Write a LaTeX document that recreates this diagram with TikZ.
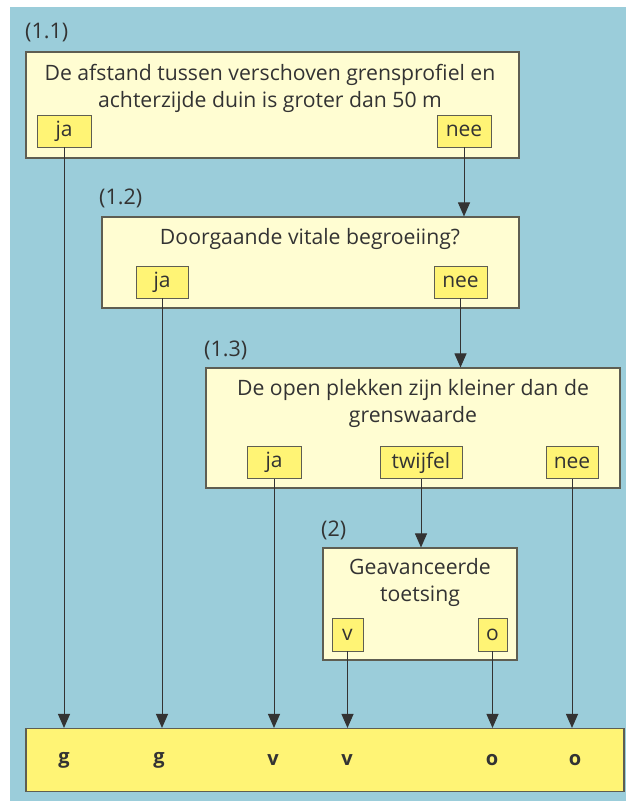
\documentclass[tikz,border=0pt]{standalone}
\usepackage{fontspec}
\setmainfont{Open Sans}
\usetikzlibrary{arrows.meta}
\definecolor{bgblue}{HTML}{9BCDDA}
\definecolor{paleyel}{HTML}{FFFDD2}
\definecolor{btnyel}{HTML}{FFF475}
\definecolor{edge}{HTML}{5E5E52}
\definecolor{ink}{HTML}{333333}
\begin{document}
\begin{tikzpicture}[x=1pt,y=-1pt,
  qbox/.style={draw=edge,line width=1.1pt,fill=paleyel,inner sep=0pt},
  btn/.style={draw=edge,line width=0.9pt,fill=btnyel,inner sep=0pt,minimum height=32pt,text=ink,font=\fontsize{21}{22}\selectfont},
  qtext/.style={text=ink,font=\fontsize{21.2}{27}\selectfont,align=center,inner sep=0pt},
  lab/.style={text=ink,font=\fontsize{21.5}{22}\selectfont,anchor=west,inner sep=0pt},
  res/.style={text=ink,font=\bfseries\fontsize{20}{22}\selectfont,inner sep=0pt},
  arr/.style={-{Triangle[length=14pt,width=12pt]},draw=ink,line width=1pt}]
\useasboundingbox (0,0) rectangle (626,805);
\fill[white] (0,0) rectangle (626,805);
\fill[bgblue] (10,7) rectangle (626,801);

% box 1.1
\node[lab] (l11) at (25,33) {(1.1)};
\node[qbox,minimum width=493pt,minimum height=106pt] (b11) at (272.5,105) {};
\node[qtext] (t11) at (270,88) {De afstand tussen verschoven grensprofiel en\\achterzijde duin is groter dan 50 m};
\node[btn,minimum width=54pt] (ja1) at (64,131) {ja};
\node[btn,minimum width=54pt] (nee1) at (464,131) {nee};

% box 1.2
\node[lab] (l12) at (99,198) {(1.2)};
\node[qbox,minimum width=417pt,minimum height=91pt] (b12) at (310.5,262.5) {};
\node[qtext] (t12) at (310,239) {Doorgaande vitale begroeiing?};
\node[btn,minimum width=52pt] (ja2) at (162,282) {ja};
\node[btn,minimum width=53pt] (nee2) at (460.5,282) {nee};

% box 1.3
\node[lab] (l13) at (204,350) {(1.3)};
\node[qbox,minimum width=414pt,minimum height=120pt] (b13) at (413,428) {};
\node[qtext] (t13) at (413,403) {De open plekken zijn kleiner dan de\\grenswaarde};
\node[btn,minimum width=54pt] (ja3) at (274,462.5) {ja};
\node[btn,minimum width=82pt] (tw3) at (421,462.5) {twijfel};
\node[btn,minimum width=52pt] (nee3) at (572,462.5) {nee};

% box 2
\node[lab] (l2) at (321,530) {(2)};
\node[qbox,minimum width=194pt,minimum height=112pt] (b2) at (420,604) {};
\node[qtext] (t2) at (420,582) {Geavanceerde\\toetsing};
\node[btn,minimum width=31pt,minimum height=33pt] (v2) at (347.5,634.5) {v};
\node[btn,minimum width=29pt,minimum height=33pt] (o2) at (492.5,634.5) {o};

% bottom result bar
\node[draw=edge,line width=1.1pt,fill=btnyel,minimum width=598pt,minimum height=63pt,inner sep=0pt] (bot) at (325,760) {};
\node[res] (r1) at (64,760) {g};
\node[res] (r2) at (159,760) {g};
\node[res] (r3) at (273,760) {v};
\node[res] (r4) at (347,760) {v};
\node[res] (r5) at (492,760) {o};
\node[res] (r6) at (575,760) {o};

% connectors
\draw[arr] (ja1.south) -- (ja1.south |- bot.north);
\draw[arr] (nee1.south) -- (nee1.south |- b12.north);
\draw[arr] (ja2.south) -- (ja2.south |- bot.north);
\draw[arr] (nee2.south) -- (nee2.south |- b13.north);
\draw[arr] (ja3.south) -- (ja3.south |- bot.north);
\draw[arr] (tw3.south) -- (tw3.south |- b2.north);
\draw[arr] (nee3.south) -- (nee3.south |- bot.north);
\draw[arr] (v2.south) -- (v2.south |- bot.north);
\draw[arr] (o2.south) -- (o2.south |- bot.north);
\end{tikzpicture}
\end{document}
